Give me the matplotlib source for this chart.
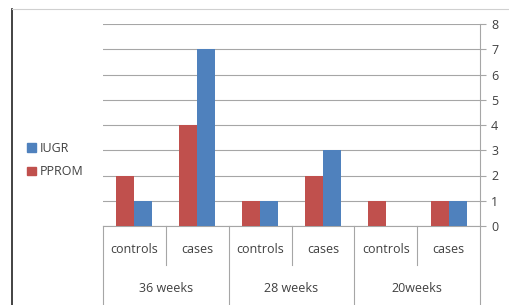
import numpy as np
import matplotlib
matplotlib.use("Agg")
import matplotlib.pyplot as plt
from matplotlib.patches import Patch
from matplotlib.lines import Line2D
import matplotlib.transforms as mtransforms

# data
groups = ["36 weeks", "28 weeks", "20weeks"]
subcats = ["controls", "cases"]
pprom = [2, 4, 1, 2, 1, 1]
iugr = [1, 7, 1, 3, 0, 1]
yticks = list(range(0, 9))

RED = "#C0504D"
BLUE = "#4F81BD"
GRID = "#A6A6A6"
TXT = "#404040"

plt.rcParams["font.family"] = ["Open Sans", "DejaVu Sans"]

fig = plt.figure(figsize=(5.1, 3.05), dpi=100)
ax = fig.add_axes([103 / 510, 1 - 226 / 305, 377 / 510, 202 / 305])

x = np.arange(len(pprom))
w = 0.287
ax.bar(x - w / 2, pprom, w, color=RED, zorder=3)
ax.bar(x + w / 2, iugr, w, color=BLUE, zorder=3)

ax.set_xlim(-0.5, len(pprom) - 0.5)
ax.set_ylim(0, 8)
ax.set_yticks(yticks)
ax.yaxis.tick_right()
ax.tick_params(axis="y", length=4, color=GRID, labelcolor=TXT, labelsize=9, pad=4)
ax.set_xticks([])
ax.grid(axis="y", color=GRID, linewidth=0.8, zorder=0)
for s in ["top", "left"]:
    ax.spines[s].set_visible(False)
ax.spines["right"].set_color(GRID)
ax.spines["bottom"].set_color(GRID)
ax.spines["right"].set_linewidth(0.8)
ax.spines["bottom"].set_linewidth(0.8)

# hierarchical category axis
trans = mtransforms.blended_transform_factory(ax.transData, ax.transAxes)
for i in range(len(pprom) + 1):
    xpos = i - 0.5
    y_end = -0.39 if i % 2 == 0 else -0.193
    ax.plot([xpos, xpos], [0, y_end], color=GRID, linewidth=0.8,
            transform=trans, clip_on=False)
for i in range(len(pprom)):
    ax.text(i, -0.114, subcats[i % 2], transform=trans, ha="center", va="center",
            fontsize=9, color=TXT)
for g, name in enumerate(groups):
    ax.text(2 * g + 0.5, -0.307, name, transform=trans, ha="center", va="center",
            fontsize=9, color=TXT)

# legend
handles = [Patch(color=BLUE, label="IUGR"), Patch(color=RED, label="PPROM")]
fig.legend(handles=handles, loc="center left", bbox_to_anchor=(16 / 510, 1 - 160 / 305),
           frameon=False, handlelength=0.7, handleheight=0.7, handletextpad=0.3,
           labelspacing=0.85, fontsize=9, labelcolor=TXT)

# outer frame
fig.add_artist(Line2D([12 / 510, 12 / 510], [0, 1 - 9 / 305], color="#222222", linewidth=1.2))
fig.add_artist(Line2D([12 / 510, 1], [1 - 9 / 305, 1 - 9 / 305], color="#D0D0D0", linewidth=0.8))

fig.savefig("out.png", dpi=100)
